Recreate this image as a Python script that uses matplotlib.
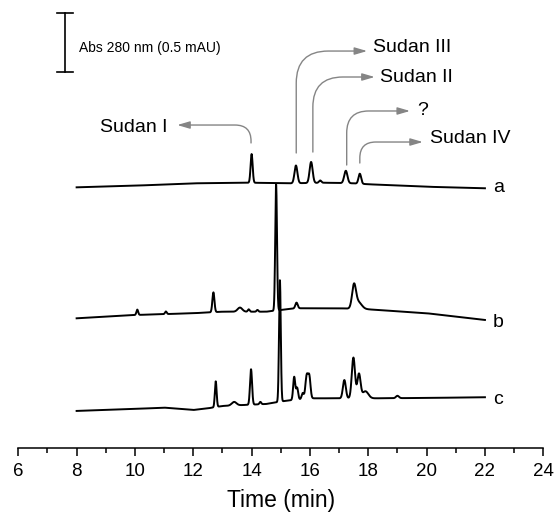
"""
Stacked chromatograms (a, b, c) of Sudan dyes, Abs 280 nm.
"""

import numpy as np
import matplotlib
matplotlib.use("Agg")
import matplotlib.pyplot as plt

plt.rcParams['font.family'] = ['Liberation Sans', 'DejaVu Sans']

# ============================================================================
# DATA (time in min, signal in mAU above the time axis)
# ============================================================================

# baseline drift, read at a few times
BASE_A_T = [8, 10, 12, 14, 15.3, 16.5, 17.5, 18, 20, 22]
BASE_A_Y = [2.209, 2.223, 2.243, 2.248, 2.243, 2.248, 2.243, 2.235, 2.214, 2.201]
BASE_B_T = [8, 10, 12, 13, 14.5, 15.5, 17, 18, 20, 22]
BASE_B_Y = [1.099, 1.127, 1.142, 1.155, 1.155, 1.184, 1.184, 1.175, 1.142, 1.085]
BASE_C_T = [8, 10, 11, 12, 12.5, 13, 14.5, 15.2, 16, 18.2, 20, 22]
BASE_C_Y = [0.314, 0.331, 0.342, 0.322, 0.336, 0.356, 0.373, 0.401, 0.421, 0.421, 0.424, 0.430]

# peaks: retention time, height (mAU), width (sigma, min)
PEAK_A_RT = [14.0, 15.52, 16.04, 16.35, 17.23, 17.71]
PEAK_A_H = [0.243, 0.150, 0.178, 0.020, 0.105, 0.085]
PEAK_A_W = [0.035, 0.050, 0.052, 0.040, 0.055, 0.045]

PEAK_B_RT = [10.08, 11.06, 12.69, 13.6, 13.9, 14.2, 14.84, 15.54, 17.51, 17.65]
PEAK_B_H = [0.045, 0.022, 0.168, 0.035, 0.020, 0.015, 1.07, 0.048, 0.185, 0.060]
PEAK_B_W = [0.030, 0.030, 0.035, 0.080, 0.030, 0.030, 0.030, 0.040, 0.065, 0.120]

PEAK_C_RT = [12.77, 13.4, 13.98, 14.3, 14.97, 15.46, 15.56, 15.75, 15.89, 15.98,
             17.18, 17.49, 17.68, 17.9, 19.0]
PEAK_C_H = [0.218, 0.030, 0.300, 0.020, 1.03, 0.195, 0.100, 0.050, 0.195, 0.175,
            0.155, 0.345, 0.205, 0.060, 0.020]
PEAK_C_W = [0.030, 0.080, 0.035, 0.030, 0.030, 0.035, 0.035, 0.035, 0.045, 0.040,
            0.050, 0.055, 0.055, 0.100, 0.050]

TRACE_LABELS = ['a', 'b', 'c']
TRACE_LABEL_Y = [2.172, 1.028, 0.373]

# annotations: text, text x/y, arrow tail (at peak), arrow head (near text)
ANN_TEXT = ['Sudan I', 'Sudan III', 'Sudan II', '?', 'Sudan IV']
ANN_TXT_X = [11.10, 18.16, 18.40, 19.67, 20.11]
ANN_TXT_Y = [2.678, 3.356, 3.099, 2.822, 2.582]
ANN_TAIL_X = [13.98, 15.53, 16.10, 17.26, 17.71]
ANN_TAIL_Y = [2.585, 2.50, 2.508, 2.398, 2.415]
ANN_HEAD_X = [11.45, 17.96, 18.22, 19.43, 19.87]
ANN_HEAD_Y = [2.737, 3.364, 3.144, 2.856, 2.593]
ANN_RAD = [16, 32, 30, 22, 16]

SCALE_X = 7.61
SCALE_Y = [3.186, 3.686]   # 0.5 mAU

X_TICKS = list(range(6, 25, 2))


def build_trace(t, base_t, base_y, rt, h, w):
    """Baseline plus gaussian peaks."""
    y = np.interp(t, base_t, base_y)
    for r, hh, ww in zip(rt, h, w):
        y = y + hh * np.exp(-0.5 * ((t - r) / ww) ** 2)
    return y


def main():
    fig = plt.figure(figsize=(5.56, 5.17), dpi=100)
    ax = fig.add_axes([0.0329, 0.1335, 0.9442, 0.8665])

    t = np.linspace(8, 22, 3000)
    traces = [
        build_trace(t, BASE_A_T, BASE_A_Y, PEAK_A_RT, PEAK_A_H, PEAK_A_W),
        build_trace(t, BASE_B_T, BASE_B_Y, PEAK_B_RT, PEAK_B_H, PEAK_B_W),
        build_trace(t, BASE_C_T, BASE_C_Y, PEAK_C_RT, PEAK_C_H, PEAK_C_W),
    ]
    for y, lab, ly in zip(traces, TRACE_LABELS, TRACE_LABEL_Y):
        ax.plot(t, y, color='black', lw=1.4)
        ax.text(22.27, ly, lab, fontsize=14, va='baseline', ha='left')

    # annotations with gray bent arrows
    for txt, tx, ty, ax0, ay0, hx, hy, rad in zip(ANN_TEXT, ANN_TXT_X, ANN_TXT_Y,
                                                   ANN_TAIL_X, ANN_TAIL_Y,
                                                   ANN_HEAD_X, ANN_HEAD_Y, ANN_RAD):
        ha = 'right' if tx < ax0 else 'left'
        ax.text(tx, ty, txt, fontsize=14, va='baseline', ha=ha)
        ax.annotate('', xy=(hx, hy), xytext=(ax0, ay0),
                    arrowprops=dict(arrowstyle='-|>,head_length=0.75,head_width=0.22',
                                    color='#858585', lw=1.0,
                                    shrinkA=0, shrinkB=0,
                                    connectionstyle=f'angle,angleA=90,angleB=0,rad={rad}'))

    # scale bar
    ax.plot([SCALE_X, SCALE_X], SCALE_Y, color='black', lw=1.2)
    for yy in SCALE_Y:
        ax.plot([SCALE_X - 0.27, SCALE_X + 0.27], [yy, yy], color='black', lw=1.2)
    ax.text(8.08, 3.358, 'Abs 280 nm (0.5 mAU)', fontsize=10, va='baseline')

    ax.set_xlim(6, 24)
    ax.set_ylim(0, 448 / 118)
    ax.set_xticks(X_TICKS)
    ax.set_xticks(range(6, 25), minor=True)
    ax.tick_params(axis='x', which='major', length=6, width=1.1, labelsize=13.5, pad=5)
    ax.tick_params(axis='x', which='minor', length=3.6, width=1.1)
    ax.set_yticks([])
    for s in ['left', 'right', 'top']:
        ax.spines[s].set_visible(False)
    ax.spines['bottom'].set_linewidth(1.1)
    ax.set_xlabel('Time (min)', fontsize=16.5, labelpad=6)
    ax.patch.set_alpha(0)

    plt.savefig('out.png', dpi=100)
    plt.close()


if __name__ == "__main__":
    main()
